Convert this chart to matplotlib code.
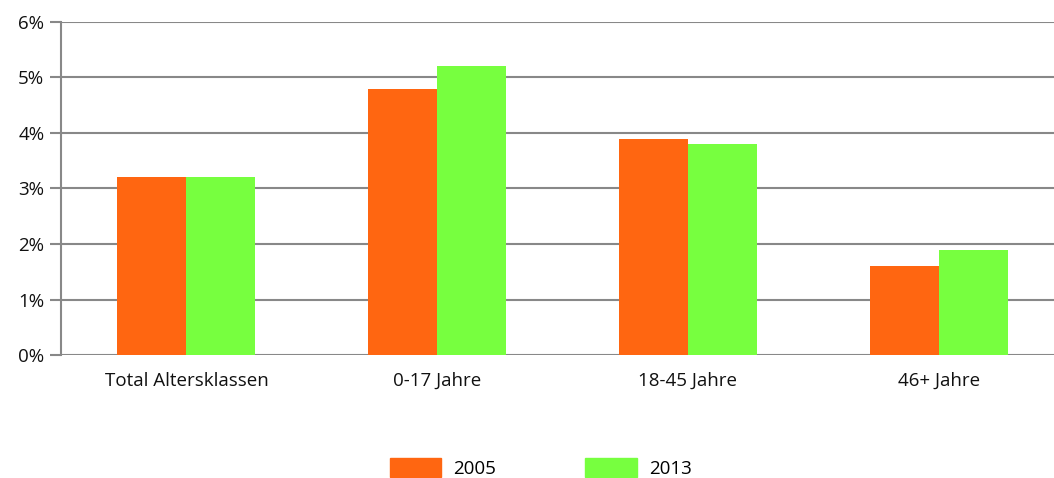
import numpy as np
import matplotlib.pyplot as plt
from matplotlib.patches import Patch

# Data
categories = ['Total Altersklassen', '0-17 Jahre', '18-45 Jahre', '46+ Jahre']
values_2005 = [3.2, 4.8, 3.9, 1.6]
values_2013 = [3.2, 5.2, 3.8, 1.9]
series_labels = ['2005', '2013']
colors = ['#FF6611', '#77FF3F']

plt.rcParams['font.family'] = ['Open Sans', 'DejaVu Sans']

fig = plt.figure(figsize=(10.54, 4.78), dpi=100)
ax = fig.add_axes([0.0579, 0.2573, 0.9421, 0.6967])

x = np.arange(len(categories))
w = 0.275
ax.bar(x - w / 2, values_2005, w, color=colors[0], zorder=3)
ax.bar(x + w / 2, values_2013, w, color=colors[1], zorder=3)

ax.set_xlim(-0.5, 3.46)
ax.set_ylim(0, 6)
ax.set_yticks(range(0, 7))
ax.set_yticklabels([f'{v}%' for v in range(0, 7)], fontsize=13.5)
ax.set_xticks(x)
ax.set_xticklabels(categories, fontsize=13.5)

ax.grid(axis='y', color='#888888', linewidth=1.5, zorder=0)
for s in ['top', 'right', 'bottom']:
    ax.spines[s].set_visible(False)
ax.spines['left'].set_color('#888888')
ax.spines['left'].set_linewidth(1.5)
ax.tick_params(axis='y', length=8, width=1.5, color='#888888', pad=4, labelcolor='#111111')
ax.tick_params(axis='x', length=0, pad=12, labelcolor='#111111')

handles = [Patch(color=c) for c in colors]
fig.legend(handles, series_labels, loc='lower center', ncol=2, frameon=False,
           fontsize=13.5, bbox_to_anchor=(0.513, -0.035), handlelength=2.75,
           handleheight=1.25, columnspacing=4.75, handletextpad=0.65)

fig.savefig('out.png', dpi=100)
